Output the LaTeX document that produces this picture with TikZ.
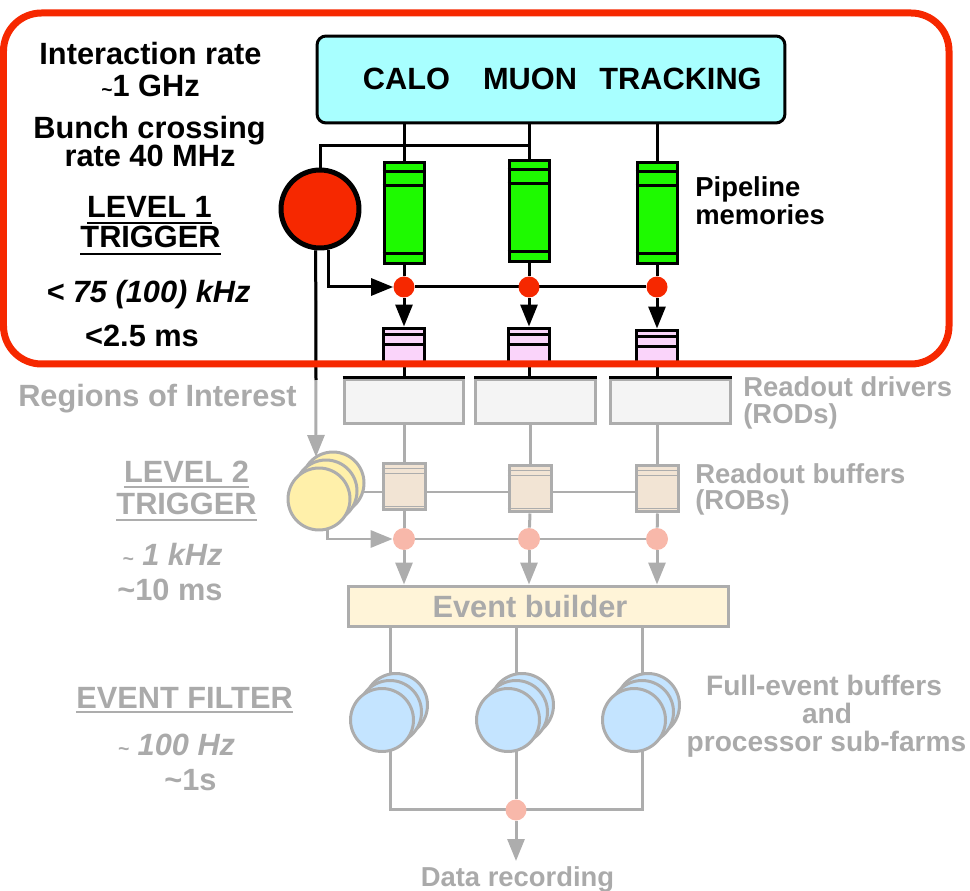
\documentclass[tikz,border=0pt]{standalone}
\usepackage{fontspec}
\setmainfont{Liberation Sans}
\usetikzlibrary{arrows.meta,calc,backgrounds}
\newcommand\smtilde{{\fontsize{11}{11}\selectfont\textasciitilde}}
\definecolor{trigred}{RGB}{246,40,0}
\definecolor{detcyan}{RGB}{168,255,255}
\definecolor{pipegreen}{RGB}{30,250,0}
\definecolor{derpink}{RGB}{250,212,250}
\definecolor{rodfill}{RGB}{244,244,244}
\definecolor{robfill}{RGB}{242,228,212}
\definecolor{ltyellow}{RGB}{255,240,170}
\definecolor{dotpink}{RGB}{248,184,170}
\definecolor{ebfill}{RGB}{255,244,216}
\definecolor{efblue}{RGB}{196,228,255}
\definecolor{lngrey}{RGB}{173,173,173}
\definecolor{txtgrey}{RGB}{170,170,170}
\begin{document}
\begin{tikzpicture}[x=0.02cm,y=-0.02cm,
  big/.style={font=\fontsize{17.5}{21}\selectfont\bfseries, inner sep=0pt, anchor=base},
  bigit/.style={font=\fontsize{17.5}{21}\selectfont\bfseries\itshape, inner sep=0pt, anchor=base},
  mid/.style={font=\fontsize{15.6}{19}\selectfont\bfseries, inner sep=0pt, anchor=base west},
  midc/.style={font=\fontsize{16}{19}\selectfont\bfseries, inner sep=0pt, anchor=base},
  faded/.style={text=txtgrey},
  blk/.style={draw=black, line width=0.06cm},
  gry/.style={draw=lngrey, line width=0.06cm},
  arr/.style={-{Triangle[length=0.44cm,width=0.34cm]}},
  pipe/.style={draw=black, fill=pipegreen, line width=0.06cm, minimum width=0.8cm, minimum height=2.04cm, inner sep=0pt},
  derand/.style={draw=black, fill=derpink, line width=0.06cm, minimum width=0.82cm, minimum height=0.7cm, inner sep=0pt},
  l1dot/.style={circle, fill=trigred, minimum size=0.42cm, inner sep=0pt},
  rod/.style={draw=lngrey, fill=rodfill, line width=0.06cm, minimum width=2.4cm, minimum height=0.9cm, inner sep=0pt},
  rob/.style={draw=lngrey, fill=robfill, line width=0.06cm, minimum width=0.84cm, minimum height=0.94cm, inner sep=0pt},
  ltwo/.style={circle, draw=lngrey, fill=ltyellow, line width=0.06cm, minimum size=1.24cm, inner sep=0pt},
  pdot/.style={circle, fill=dotpink, minimum size=0.44cm, inner sep=0pt},
  farm/.style={circle, draw=lngrey, fill=efblue, line width=0.06cm, minimum size=1.26cm, inner sep=0pt},
  uline/.style={line width=0.04cm}
]
\useasboundingbox (0,0) rectangle (970,891);

% ---------- detector front ends ----------
\node[draw=black, line width=0.06cm, rounded corners=0.18cm, fill=detcyan,
      minimum width=9.36cm, minimum height=1.74cm, inner sep=0pt] (det) at (551,79.5) {};
\node[big] (calo) at (406.5,90) {CALO};
\node[big] (muon) at (530,90) {MUON};
\node[big] (trk) at (680.5,90) {TRACKING};

% ---------- level 1 ----------
\node[circle, draw=black, line width=0.1cm, fill=trigred, minimum size=1.56cm, inner sep=0pt] (trig) at (320,209) {};

\node[pipe] (pipe1) at (404,213) {};
\node[pipe] (pipe2) at (529,211) {};
\node[pipe] (pipe3) at (657,213) {};
\foreach \p in {pipe1,pipe2,pipe3}{
  \draw[line width=0.05cm] ($(\p.north west)+(0,11)$) -- ($(\p.north east)+(0,11)$);
  \draw[line width=0.05cm] ($(\p.north west)+(0,25)$) -- ($(\p.north east)+(0,25)$);
  \draw[line width=0.05cm] ($(\p.south west)+(0,-12)$) -- ($(\p.south east)+(0,-12)$);
}

\node[l1dot] (dot1) at (404,287) {};
\node[l1dot] (dot2) at (529,287) {};
\node[l1dot] (dot3) at (657,287) {};

\node[derand] (der1) at (404,345.5) {};
\node[derand] (der2) at (529,345.5) {};
\node[derand] (der3) at (657,347.5) {};
\foreach \p in {der1,der2,der3}{
  \draw[line width=0.05cm] ($(\p.north west)+(0,8)$) -- ($(\p.north east)+(0,8)$);
  \draw[line width=0.05cm] ($(\p.north west)+(0,18)$) -- ($(\p.north east)+(0,18)$);
}

% ---------- readout ----------
\node[rod] (rod1) at (404,401.5) {};
\node[rod] (rod2) at (535.5,401.5) {};
\node[rod] (rod3) at (670.5,401.5) {};
\foreach \p in {rod1,rod2,rod3}{
  \draw[draw=black, line width=0.05cm] (\p.north west) -- (\p.north east);
}

\node[rob] (rob1) at (404,486.5) {};
\node[rob] (rob2) at (530,488.5) {};
\node[rob] (rob3) at (657.5,488.5) {};
\foreach \p in {rob1,rob2,rob3}{
  \draw[lngrey, line width=0.03cm] ($(\p.north west)+(0,7)$) -- ($(\p.north east)+(0,7)$);
  \draw[lngrey, line width=0.03cm] ($(\p.north west)+(0,12)$) -- ($(\p.north east)+(0,12)$);
  \draw[lngrey, line width=0.03cm] ($(\p.south west)+(0,-5)$) -- ($(\p.south east)+(0,-5)$);
}

% ---------- level 2 processors ----------
\node[ltwo] (l2c) at (333,483) {};
\node[ltwo] (l2b) at (326,491) {};
\node[ltwo] (l2a) at (319,499) {};

\node[pdot] (pdot1) at (404,539) {};
\node[pdot] (pdot2) at (529,539) {};
\node[pdot] (pdot3) at (657,539) {};

\node[draw=lngrey, fill=ebfill, line width=0.06cm, minimum width=7.62cm, minimum height=0.82cm, inner sep=0pt] (eb) at (538.5,606.5) {};
\node[big, faded] (ebtxt) at (530,617) {Event builder};

% ---------- event filter farms ----------
\foreach \i/\L in {1/390,2/516,3/642}{
  \node[farm] (ef\i c) at (\L+6,705) {};
  \node[farm] (ef\i b) at (\L,712) {};
  \node[farm] (ef\i a) at (\L-8,720) {};
}
\node[pdot, minimum size=0.42cm] (fdot) at (516,810) {};

\coordinate (tap) at (529,146);
\coordinate (roiend) at (316,457);
\coordinate (roicut) at (316,380);
\coordinate (robbus) at (657,492);
\coordinate (fbus) at (516,809);
\coordinate (recend) at (516,861);

% ---------- connectors ----------
\begin{scope}[on background layer]
  % grey (downstream) paths
  \draw[gry,arr] (trig.264) -- (roiend);
  \foreach \i in {1,2,3}{
    \draw[gry] (rob\i.north |- rod\i.south) -- (rob\i.north);
    \draw[gry] (rob\i.south) -- (pdot\i);
    \draw[gry,arr] (pdot\i.south) -- (pdot\i.south |- eb.north);
  }
  \draw[gry] (l2b.center |- robbus) -- (robbus);
  \draw[gry,arr] (l2a.285) |- (pdot1.west);
  \draw[gry] (pdot1) -- (pdot3);
  \draw[gry] (ef1b.center |- eb.south) -- (ef1b.center |- fbus) -- (ef3b.center |- fbus) -- (ef3b.center |- eb.south);
  \draw[gry] (ef2b.center |- eb.south) -- (fdot);
  \draw[gry,arr] (fdot.south) -- (recend);
  % black (level 1) paths
  \draw[blk] (trig.264) -- (roicut);
  \draw[blk] (trig.north) |- (tap);
  \foreach \i in {1,2,3}{
    \draw[blk] (pipe\i.north |- det.south) -- (pipe\i.north);
    \draw[blk] (pipe\i.south) -- (dot\i);
    \draw[blk] (der\i.south) -- (der\i.south |- rod\i.north);
  }
  \draw[blk] (dot1) -- (dot3);
\end{scope}
\draw[blk,arr] (trig.282) |- (dot1.west);
\foreach \i in {1,2,3}{
  \draw[blk,arr] (dot\i.south) -- (der\i.north);
}

% ---------- labels ----------
\node[big] (ir) at (150.5,65) {Interaction rate};
\node[big] (ghz) at (150.5,97) {\smtilde1 GHz};
\node[big] (bc) at (149.5,139) {Bunch crossing};
\node[big] (mhz) at (150,167) {rate 40 MHz};
\node[big] (lv1) at (149.5,218) {LEVEL 1};
\node[big] (trg1) at (150.5,248) {TRIGGER};
\draw[uline] ($(lv1.base west)+(0,5)$) -- ($(lv1.base east)+(0,5)$);
\draw[uline] ($(trg1.base west)+(0,6)$) -- ($(trg1.base east)+(0,6)$);
\node[bigit] (l1rate) at (148.5,303) {< 75 (100) kHz};
\node[big] (l1lat) at (142,347) {<2.5 ms};

\node[mid] (pl1) at (695,197) {Pipeline};
\node[mid] (pl2) at (695,225) {memories};

\node[big, faded] (roi) at (157.5,407) {Regions of Interest};
\node[mid, faded] (rodl1) at (743,397) {Readout drivers};
\node[mid, faded] (rodl2) at (743,424) {(RODs)};
\node[mid, faded] (robl1) at (695,483) {Readout buffers};
\node[mid, faded] (robl2) at (695,510) {(ROBs)};

\node[big, faded] (lv2) at (186.5,482) {LEVEL 2};
\node[big, faded] (trg2) at (186.5,515) {TRIGGER};
\draw[uline, lngrey] ($(lv2.base west)+(0,5)$) -- ($(lv2.base east)+(0,5)$);
\draw[uline, lngrey] ($(trg2.base west)+(0,5)$) -- ($(trg2.base east)+(0,5)$);
\node[bigit, faded] (l2rate) at (172.5,565) {\smtilde{} 1 kHz};
\node[big, faded] (l2lat) at (170,600) {\textasciitilde10 ms};

\node[big, faded] (efl) at (184.5,708) {EVENT FILTER};
\draw[uline, lngrey] ($(efl.base west)+(0,4)$) -- ($(efl.base east)+(0,4)$);
\node[bigit, faded] (efrate) at (176.5,755) {\smtilde{} 100 Hz};
\node[big, faded] (eflat) at (190.5,790) {\textasciitilde1s};

\node[midc, faded] (fe1) at (824,695) {Full-event buffers};
\node[midc, faded] (fe2) at (827,723) {and};
\node[midc, faded] (fe3) at (826.5,751) {processor sub-farms};

\node[midc, faded, font=\fontsize{15.6}{19}\selectfont\bfseries] (rec) at (517.5,886.5) {Data recording};

% ---------- level-1 frame ----------
\draw[draw=trigred, line width=0.14cm, rounded corners=0.76cm] (3.5,13) rectangle (949,364);
\end{tikzpicture}
\end{document}
